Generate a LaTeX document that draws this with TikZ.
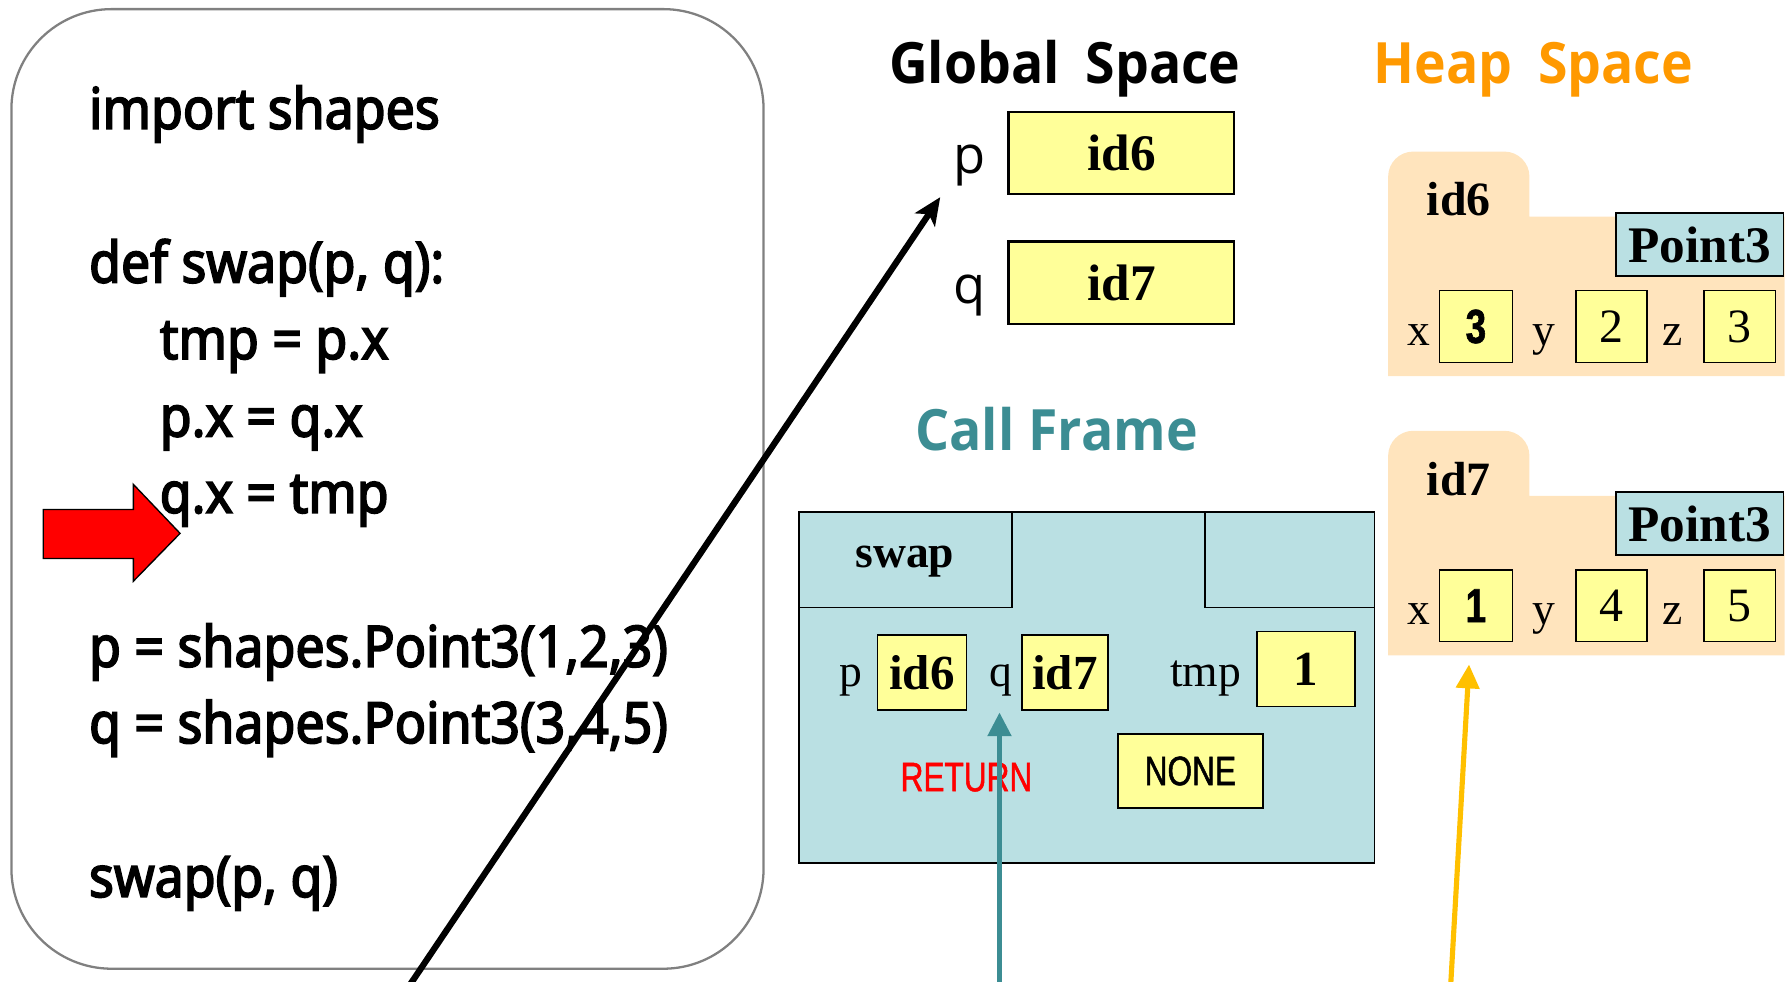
\documentclass[tikz,border=0pt]{standalone}
\usepackage{fontspec}
\setmainfont{Liberation Serif}
\newfontfamily\codefont[FakeStretch=0.91, FakeBold=3]{Noto Sans}
\newfontfamily\titlefont[FakeStretch=0.94]{Open Sans}
\newfontfamily\labelfont{Open Sans}
\newfontfamily\narrowfont[FakeStretch=0.77, FakeBold=1.2]{Liberation Sans}
\usetikzlibrary{arrows.meta}

\definecolor{boxyellow}{HTML}{FFFF99}
\definecolor{heappeach}{HTML}{FFE4BD}
\definecolor{framecyan}{HTML}{BAE0E3}
\definecolor{tealtitle}{HTML}{3C8D93}
\definecolor{heaporange}{HTML}{FF9900}
\definecolor{goldarrow}{HTML}{FFC000}
\definecolor{codegray}{HTML}{808080}

\begin{document}
\begin{tikzpicture}[x=1pt,y=-1pt,
  codeline/.style={anchor=base west, inner sep=0pt, font=\codefont\fontsize{50}{60}\selectfont},
  heading/.style={anchor=base west, inner sep=0pt, font=\titlefont\bfseries\fontsize{50}{60}\selectfont},
  gbox/.style={draw=black, line width=2pt, fill=boxyellow, inner sep=0pt,
    font=\bfseries\fontsize{45}{50}\selectfont},
  fbox/.style={draw=black, line width=1.5pt, fill=boxyellow, inner sep=0pt,
    font=\fontsize{42}{48}\selectfont},
  clsbox/.style={draw=black, line width=1.5pt, fill=framecyan, inner sep=0pt,
    font=\bfseries\fontsize{45}{50}\selectfont},
  serlabel/.style={anchor=base, inner sep=0pt, font=\fontsize{40}{48}\selectfont},
  sanslabel/.style={anchor=base, inner sep=0pt, font=\labelfont\fontsize{46}{52}\selectfont},
  narrowtext/.style={inner sep=0pt, font=\narrowfont\fontsize{36}{40}\selectfont},
  pointer/.style={line width=5pt},
]
\useasboundingbox (0,0) rectangle (1568,861);

% ---------- program listing ----------
\draw[codegray, line width=2pt, rounded corners=88pt] (10,8) rectangle (670,850);
\node[codeline] (l1) at (78,113) {import shapes};
\node[codeline] (l2) at (78,248) {def swap(p, q):};
\node[codeline] (l3) at (140,315) {tmp = p.x};
\node[codeline] (l4) at (140,383) {p.x = q.x};
\node[codeline] (l5) at (140,450) {q.x = tmp};
\node[codeline] (l6) at (78,585) {p = shapes.Point3(1,2,3)};
\node[codeline] (l7) at (78,652) {q = shapes.Point3(3,4,5)};
\node[codeline] (l8) at (78,787) {swap(p, q)};

% current-line marker
\draw[fill=red, draw=black, line width=1.2pt]
  (38,447) -- (117,447) -- (117,425) -- (158,468) -- (117,510) -- (117,490) -- (38,490) -- cycle;

% ---------- global space ----------
\node[heading] (globalT) at (780,73) {Global\hspace{0.45em}Space};
\node[gbox, minimum width=198pt, minimum height=72pt] (gp) at (984,134) {id6};
\node[gbox, minimum width=198pt, minimum height=72pt] (gq) at (984,248) {id7};
\node[sanslabel] (gpl) at (851,152) {p};
\node[sanslabel] (gql) at (851,266) {q};

% ---------- heap space ----------
\node[heading, text=heaporange] (heapT) at (1205,73) {Heap\hspace{0.45em}Space};

\foreach \dy/\nm/\xv/\yv/\zv in {0/a/3/2/3, 245/b/1/4/5}{
  \begin{scope}[yshift=-\dy pt]
    \fill[heappeach] (1218,330) -- (1218,155) arc[start angle=180, end angle=90, radius=22pt]
      -- (1320,133) arc[start angle=90, end angle=0, radius=22pt]
      -- (1342,190) -- (1566,190) -- (1566,330) -- cycle;
    \node[clsbox, minimum width=147pt, minimum height=55pt] (cls\nm) at (1491.5,214.5) {Point3};
    \node[fbox, minimum width=64pt, minimum height=63pt,
      font=\narrowfont\bfseries\fontsize{42}{48}\selectfont] (hx\nm) at (1295,286.5) {\xv};
    \node[fbox, minimum width=62pt, minimum height=63pt] (hy\nm) at (1414,286.5) {\yv};
    \node[fbox, minimum width=63pt, minimum height=63pt] (hz\nm) at (1526.5,286.5) {\zv};
    \node[serlabel] (hxl\nm) at (1245,303) {x};
    \node[serlabel] (hyl\nm) at (1355,303) {y};
    \node[serlabel] (hzl\nm) at (1468,303) {z};
  \end{scope}
}
\node[inner sep=0pt, font=\bfseries\fontsize{42}{48}\selectfont] (hida) at (1280,175) {id6};
\node[inner sep=0pt, font=\bfseries\fontsize{42}{48}\selectfont] (hidb) at (1280,420) {id7};

% ---------- call frame ----------
\node[heading, text=tealtitle] (frameT) at (803,395) {Call Frame};
\draw[fill=framecyan, line width=1.5pt] (701,449) rectangle (1206,757);
\draw[line width=1.5pt] (888,449) -- (888,533) -- (701,533);
\draw[line width=1.5pt] (1057,449) -- (1057,533) -- (1206,533);
\node[anchor=base, inner sep=0pt, font=\bfseries\fontsize{40}{48}\selectfont] (fname) at (794,498) {swap};

\node[fbox, minimum width=78pt, minimum height=66pt, font=\bfseries\fontsize{43}{48}\selectfont] (fp) at (809,590) {id6};
\node[fbox, minimum width=75pt, minimum height=66pt, font=\bfseries\fontsize{43}{48}\selectfont] (fq) at (934.5,590) {id7};
\node[fbox, minimum width=86pt, minimum height=66pt, font=\bfseries\fontsize{43}{48}\selectfont] (ftmp) at (1146,587) {1};
\node[serlabel] (fpl) at (747,602) {p};
\node[serlabel] (fql) at (878,602) {q};
\node[serlabel] (ftmpl) at (1058,602) {tmp};

\node[narrowtext, text=red] (fret) at (848,682) {RETURN};
\node[fbox, minimum width=127pt, minimum height=65pt, font=\narrowfont\fontsize{36}{40}\selectfont] (fnone) at (1044.5,676.5) {NONE};

% ---------- pointers ----------
\coordinate (blackTail) at (349,880);
\coordinate (blackTip) at (825,173);
\coordinate (tealTail) at (877,880);
\coordinate (tealTip) at (877,625);
\coordinate (goldTail) at (1272,880);
\coordinate (goldTip) at (1289,583);
\begin{scope}
  \clip (0,0) rectangle (1568,861);
  \draw[pointer, black, line width=5.5pt, -{Stealth[length=24pt, width=21pt, inset=6pt]}] (blackTail) -- (blackTip);
  \draw[pointer, tealtitle, -{Triangle[length=21pt, width=20pt]}] (tealTail) -- (tealTip);
  \draw[pointer, goldarrow, line width=4.5pt, -{Triangle[length=21pt, width=20pt]}] (goldTail) -- (goldTip);
\end{scope}
\end{tikzpicture}
\end{document}
